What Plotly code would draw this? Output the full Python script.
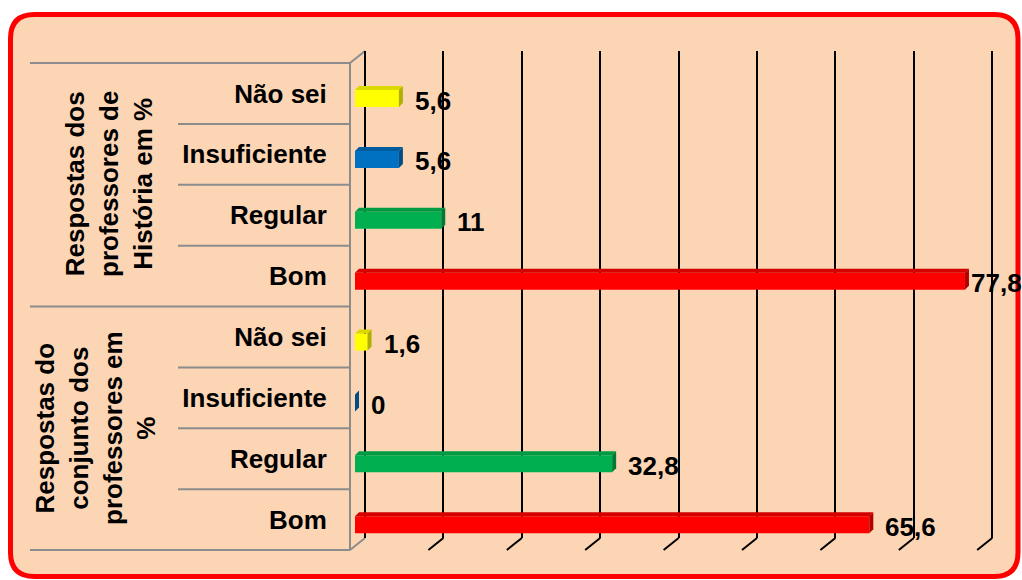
import plotly.graph_objects as go

# data
categories = ["Bom", "Regular", "Insuficiente", "Não sei"]
conjunto = [65.6, 32.8, 0, 1.6]          # Respostas do conjunto dos professores em %
historia = [77.8, 11, 5.6, 5.6]          # Respostas dos professores de História em %
group_labels = ["Respostas do<br>conjunto dos<br>professores em<br>%",
                "Respostas dos<br>professores de<br>História em %"]

front_colors = {"Bom": "#FF0000", "Regular": "#00B050", "Insuficiente": "#0070C0", "Não sei": "#FFFF00"}
top_colors = {"Bom": "#D40000", "Regular": "#009A45", "Insuficiente": "#005C9E", "Não sei": "#DADA00"}
side_colors = {"Bom": "#B00000", "Regular": "#007A36", "Insuficiente": "#004C84", "Não sei": "#B0B000"}

W, H = 1022, 580
FONT = "Liberation Sans, Arial, sans-serif"
FS = 26
PXU = 7.84          # pixels per % on the value axis
XMAX = 80.3         # a hair past 80 so the last gridline is kept
X0, YT, YB = 350, 63, 550   # front plane of the category axis
SLOT = (YB - YT) / 8


def dom(dx, dy):
    xd = [(X0 + dx) / W, (X0 + dx + XMAX * PXU) / W]
    yd = [1 - (YB + dy) / H, 1 - (YT + dy) / H]
    return xd, yd


def p(x, y):
    return x / W, 1 - y / H


values = conjunto + historia
labels = categories + categories
pos = list(range(len(values)))

fig = go.Figure()

# back wall (drawn first so it sits under the bars)
fig.add_trace(go.Scatter(x=[None], y=[None], xaxis="x", yaxis="y", showlegend=False))

# bars
fig.add_trace(go.Bar(
    x=values, y=pos, orientation="h", width=0.28, offset=-0.29,
    marker=dict(color=[front_colors[c] for c in labels], line=dict(width=0)),
    xaxis="x2", yaxis="y2", showlegend=False, hoverinfo="skip"))

dxu = 4 / PXU
dyu = 4 / SLOT
for v, y, c in zip(values, pos, labels):
    yt = y - 0.01
    yb = y - 0.29
    fig.add_trace(go.Scatter(
        x=[0, v, v + dxu, dxu, 0], y=[yt, yt, yt + dyu, yt + dyu, yt],
        fill="toself", fillcolor=top_colors[c], mode="lines", line=dict(width=0),
        xaxis="x2", yaxis="y2", showlegend=False, hoverinfo="skip"))
    fig.add_trace(go.Scatter(
        x=[v, v, v + dxu, v + dxu, v], y=[yb, yt, yt + dyu, yb + dyu, yb],
        fill="toself", fillcolor=side_colors[c], mode="lines", line=dict(width=0),
        xaxis="x2", yaxis="y2", showlegend=False, hoverinfo="skip"))

# front plane, just carries the category labels
fig.add_trace(go.Scatter(x=[None], y=[None], xaxis="x3", yaxis="y3", showlegend=False))

# value labels
for v, y in zip(values, pos):
    txt = f"{v:g}".replace(".", ",")
    fig.add_annotation(x=v, y=y - 0.15, xref="x2", yref="y2", text=txt,
                       showarrow=False, xanchor="left", yanchor="middle",
                       xshift=4 if v > 75 else 14, yshift=-2,
                       font=dict(family=FONT, size=FS, color="black", weight="bold"))

# group labels
for g, (cx, cy) in zip(group_labels, [(95, 428), (109, 184)]):
    gx, gy = p(cx, cy)
    fig.add_annotation(x=gx, y=gy, xref="paper", yref="paper", text=g, textangle=-90,
                       showarrow=False, xanchor="center", yanchor="middle",
                       font=dict(family=FONT, size=FS, color="black", weight="bold"))

shapes = []
# chart area with red rounded border
x0, y0, x1, y1, r = 10.5, 14.5, 1018, 576.5, 24
pts = [("M", x0 + r, y0), ("L", x1 - r, y0), ("Q", x1, y0, x1, y0 + r), ("L", x1, y1 - r),
       ("Q", x1, y1, x1 - r, y1), ("L", x0 + r, y1), ("Q", x0, y1, x0, y1 - r),
       ("L", x0, y0 + r), ("Q", x0, y0, x0 + r, y0)]
path = ""
for seg in pts:
    cmd, coords = seg[0], seg[1:]
    xy = []
    for i in range(0, len(coords), 2):
        a, b = p(coords[i], coords[i + 1])
        xy.append(f"{a:.5f},{b:.5f}")
    path += cmd + " " + " ".join(xy) + " "
path += "Z"
shapes.append(dict(type="path", path=path, xref="paper", yref="paper", layer="below",
                   fillcolor="#FCD5B5", line=dict(color="#FF0000", width=5)))

grey = dict(color="#8C8C8C", width=2)
# table lines of the category axis
for k in range(9):
    yy = YT + k * SLOT
    left = 30 if k % 4 == 0 else 178
    xa, ya = p(left, yy)
    xb, yb_ = p(X0, yy)
    shapes.append(dict(type="line", x0=xa, y0=ya, x1=xb, y1=yb_, xref="paper", yref="paper",
                       layer="below", line=grey))
# side wall edges
for a, b in [((X0, YT), (X0, YB)), ((X0, YT), (X0 + 15, YT - 12)), ((X0, YB), (X0 + 15, YB - 12))]:
    xa, ya = p(*a)
    xb, yb_ = p(*b)
    shapes.append(dict(type="line", x0=xa, y0=ya, x1=xb, y1=yb_, xref="paper", yref="paper",
                       layer="below", line=grey))
# floor ticks
for t in range(10, 81, 10):
    bx = X0 + 15 + t * PXU
    xa, ya = p(bx, YB - 12)
    xb, yb_ = p(bx - 15, YB)
    shapes.append(dict(type="line", x0=xa, y0=ya, x1=xb, y1=yb_, xref="paper", yref="paper",
                       layer="below", line=dict(color="black", width=2)))

xd1, yd1 = dom(15, -12)
xd2, yd2 = dom(5, -4)
xd3, yd3 = dom(0, 0)
hidden = dict(showgrid=False, zeroline=False, showticklabels=False, showline=False, ticks="")

fig.update_layout(
    template="none",
    width=W, height=H,
    margin=dict(l=0, r=0, t=0, b=0),
    paper_bgcolor="white",
    plot_bgcolor="rgba(0,0,0,0)",
    showlegend=False,
    shapes=shapes,
    xaxis=dict(domain=xd1, range=[0, XMAX], anchor="y", showgrid=True, gridcolor="black",
               gridwidth=2, dtick=10, tick0=0, zeroline=True, zerolinecolor="black",
               zerolinewidth=2, showticklabels=False, showline=False, ticks=""),
    yaxis=dict(domain=yd1, range=[-0.5, 7.5], anchor="x", **hidden),
    xaxis2=dict(domain=xd2, range=[0, XMAX], anchor="y2", **hidden),
    yaxis2=dict(domain=yd2, range=[-0.5, 7.5], anchor="x2", **hidden),
    xaxis3=dict(domain=xd3, range=[0, XMAX], anchor="y3", **hidden),
    yaxis3=dict(domain=yd3, range=[-0.5, 7.5], anchor="x3", showgrid=False, zeroline=False,
                showline=False, tickvals=pos, ticktext=labels, ticks="outside", ticklen=17,
                tickcolor="rgba(0,0,0,0)",
                tickfont=dict(family=FONT, size=FS, color="black", weight="bold")),
)

fig.write_html("out.html", config={"displayModeBar": False},
               post_script="document.body.style.margin = '0';")
